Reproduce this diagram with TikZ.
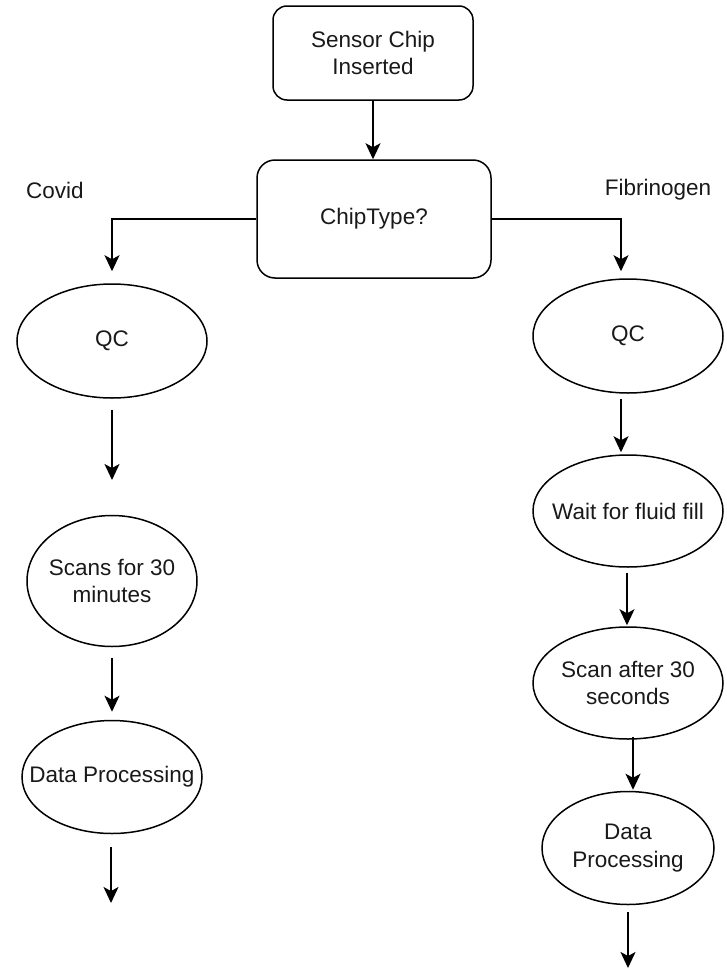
\documentclass[tikz,border=0pt]{standalone}
\usepackage{fontspec}
\setmainfont{Liberation Sans}
\usetikzlibrary{shapes.geometric,arrows.meta}

\begin{document}
\begin{tikzpicture}[x=1pt,y=-1pt,
  every node/.style={font=\fontsize{22.5}{27.5}\selectfont, text=black!90},
  box/.style={draw, line width=1.5pt, rectangle, rounded corners=#1, align=center, inner sep=0pt},
  % ellipse outline keeps its set size; the text sits on top as a centred label
  oval/.style={draw, line width=1.5pt, ellipse, inner sep=0pt,
               label={[align=center, inner sep=0pt]center:#1}},
  lbl/.style={inner sep=0pt},
  flow/.style={line width=1.5pt, -{Stealth[length=16pt,width=15pt,inset=4pt]}}
]
\useasboundingbox (0,0) rectangle (727,969);

% decision part
\node[box=14pt, minimum width=200pt, minimum height=94pt] (start) at (373,53) {Sensor Chip\\Inserted};
\node[box=18pt, minimum width=234pt, minimum height=118pt] (chip) at (374,219) {ChipType?};
\node[lbl] (covid) at (55,190) {Covid};
\node[lbl] (fib) at (658,190) {Fibrinogen};

% Covid branch
\node[oval={QC}, minimum width=190pt, minimum height=114pt] (qcL) at (112,341) {};
\node[oval={Scans for 30\\minutes}, minimum width=170pt, minimum height=131pt] (scanL) at (112,581) {};
\node[oval={Data Processing}, minimum width=180pt, minimum height=113pt] (dpL) at (112,777) {};
\coordinate (endQCL) at (112,480);
\coordinate (endDPL) at (111,903);

% Fibrinogen branch
\node[oval={QC}, minimum width=190pt, minimum height=114pt] (qcR) at (628,336) {};
\node[oval={Wait for fluid fill}, minimum width=190pt, minimum height=112pt] (wait) at (628,511) {};
\node[oval={Scan after 30\\seconds}, minimum width=190pt, minimum height=112pt] (scanR) at (628,683) {};
\node[oval={Data\\Processing}, minimum width=172pt, minimum height=113pt] (dpR) at (628,848) {};
\coordinate (endDPR) at (628,968);

% connectors
\draw[flow] (start.south) -- (start.south |- chip.north);
\draw[flow, shorten >=12pt] (chip.west) -| (qcL.north);
\draw[flow, shorten >=7pt] (chip.east) -| ([xshift=-7pt]qcR.north);

\draw[flow, shorten <=11pt] (qcL.south) -- (endQCL);
\draw[flow, shorten <=11pt, shorten >=8pt] (scanL.south) -- (dpL.north);
\draw[flow, shorten <=13pt] ([xshift=-1pt]dpL.south) -- (endDPL);

\draw[flow, shorten <=5pt, shorten >=2pt] ([xshift=-7pt]qcR.south) -- ([xshift=-7pt]wait.north);
\draw[flow, shorten <=5pt, shorten >=1pt] ([xshift=-1pt]wait.south) -- ([xshift=-1pt]scanR.north);
\draw[flow, shorten <=-3pt, shorten >=1pt] ([xshift=5pt]scanR.south) -- ([xshift=5pt]dpR.north);
\draw[flow, shorten <=7pt] (dpR.south) -- (endDPR);
\end{tikzpicture}
\end{document}
